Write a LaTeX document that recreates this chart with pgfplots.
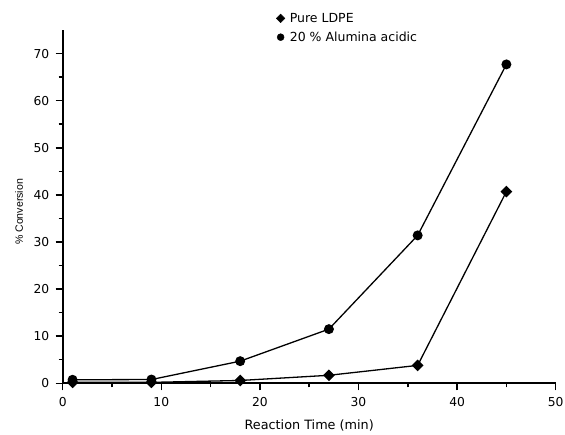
\documentclass[border=0pt]{standalone}
\usepackage{fontspec}
\setmainfont{DejaVu Sans}
\newfontfamily\labfont{Liberation Sans}
\usepackage{pgfplots}
\pgfplotsset{compat=1.18}
\begin{document}
\begin{tikzpicture}
\useasboundingbox (-62.7pt,-50.7pt) rectangle (502.3pt,383.3pt);
\begin{axis}[
  at={(0,0)}, anchor=south west,
  scale only axis, width=493pt, height=353.3pt,
  xmin=0, xmax=50, ymin=0, ymax=75,
  axis x line*=bottom, axis y line*=left,
  xtick={0,10,...,50}, ytick={0,10,...,70},
  minor xtick={5,15,...,45}, minor ytick={5,15,...,65},
  tick align=outside, major tick length=7pt, minor tick length=4pt,
  every tick/.style={black, line width=1.5pt},
  axis line style={line width=1.8pt, black},
  /pgf/number format/assume math mode=true,
  tick label style={font=\fontsize{12.3}{14}\selectfont},
  xticklabel style={yshift=-4pt},
  yticklabel style={xshift=-3pt},
  xlabel={Reaction Time (min)},
  xlabel style={font=\fontsize{12.8}{14}\selectfont, at={(axis description cs:0.5,-0.12)}, anchor=center},
  ylabel={\% Conversion},
  ylabel style={font=\labfont\fontsize{10.6}{12}\selectfont, at={(axis description cs:-0.0886,0.485)}, anchor=center},
  legend style={draw=none, fill=none, at={(axis description cs:0.431,1.057)}, anchor=north west,
    font=\fontsize{12.5}{14}\selectfont, row sep=4pt, column sep=3pt, inner sep=1pt},
  legend cell align=left,
]
\addplot[black, line width=1.3pt, mark=square*, mark size=3.5pt, mark options={rotate=45}, forget plot]
  coordinates {(1,0.2) (9,0.2) (18,0.6) (27,1.7) (36,3.8) (45,40.7)};
\addplot[black, line width=1.3pt, mark=*, mark size=4.3pt, forget plot]
  coordinates {(1,0.75) (9,0.8) (18,4.7) (27,11.5) (36,31.4) (45,67.7)};
\addlegendimage{only marks, black, mark=square*, mark size=3pt, mark options={rotate=45}}
\addlegendentry{Pure LDPE}
\addlegendimage{only marks, black, mark=*, mark size=3.5pt}
\addlegendentry{20 \% Alumina acidic}
\end{axis}
\end{tikzpicture}
\end{document}
